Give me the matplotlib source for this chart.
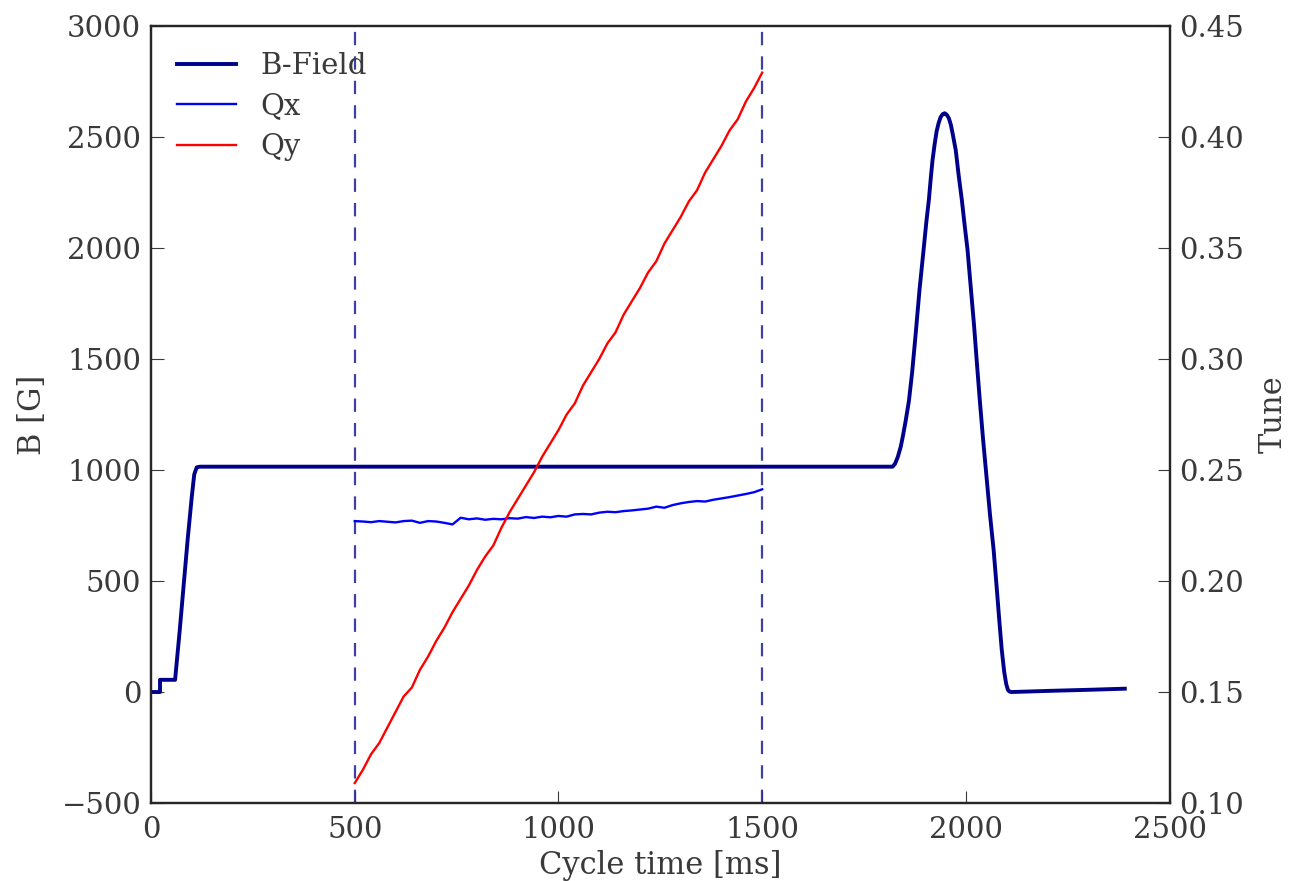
import matplotlib
matplotlib.use('Agg')
import matplotlib.pyplot as plt

# B-field vs cycle time
b_time = [0, 22, 22, 59, 70, 80, 90, 100, 106, 112, 120, 300, 600, 900, 1200, 1500, 1820,
          1826, 1833, 1840, 1845, 1852, 1860, 1868, 1877, 1886, 1896, 1903, 1909, 1914,
          1918, 1923, 1928, 1933, 1938, 1943, 1948, 1953, 1958, 1963, 1968, 1972, 1975,
          1982, 1990, 1997, 2004, 2012, 2020, 2027, 2034, 2042, 2050, 2059, 2068, 2076,
          2082, 2088, 2094, 2099, 2103, 2107, 2112, 2200, 2300, 2390]
b_field = [0, 0, 55, 55, 270, 480, 690, 880, 980, 1012, 1015, 1015, 1015, 1015, 1015, 1015, 1015,
           1028, 1060, 1105, 1150, 1220, 1310, 1440, 1620, 1810, 1991, 2120, 2216, 2320,
           2395, 2465, 2525, 2563, 2590, 2603, 2607, 2600, 2585, 2555, 2510, 2470, 2441,
           2330, 2216, 2100, 1991, 1820, 1650, 1480, 1315, 1140, 980, 800, 640, 460,
           320, 189, 90, 35, 10, 2, 0, 5, 10, 15]

# tune measurements between 500 and 1500 ms
tune_time = list(range(500, 1501, 20))
qx = [0.2270, 0.2268, 0.2265, 0.2270, 0.2267, 0.2264, 0.2270, 0.2272, 0.2262, 0.2270,
      0.2268, 0.2262, 0.2255, 0.2285, 0.2278, 0.2282, 0.2276, 0.2280, 0.2278, 0.2283,
      0.2281, 0.2288, 0.2284, 0.2290, 0.2287, 0.2293, 0.2290, 0.2300, 0.2302, 0.2300,
      0.2308, 0.2312, 0.2310, 0.2315, 0.2318, 0.2322, 0.2326, 0.2335, 0.2330, 0.2342,
      0.2350, 0.2356, 0.2360, 0.2358, 0.2366, 0.2372, 0.2378, 0.2385, 0.2392, 0.2400,
      0.2413]
qy = [0.109, 0.115, 0.122, 0.127, 0.134, 0.141, 0.148, 0.152, 0.160, 0.166,
      0.173, 0.179, 0.186, 0.192, 0.198, 0.205, 0.211, 0.216, 0.224, 0.231,
      0.237, 0.243, 0.249, 0.256, 0.262, 0.268, 0.275, 0.280, 0.288, 0.294,
      0.300, 0.307, 0.312, 0.320, 0.326, 0.332, 0.339, 0.344, 0.352, 0.358,
      0.364, 0.371, 0.376, 0.384, 0.390, 0.396, 0.403, 0.408, 0.416, 0.422,
      0.429]

plt.rcParams['font.family'] = 'DejaVu Serif'
plt.rcParams['font.size'] = 21
plt.rcParams['xtick.direction'] = 'in'
plt.rcParams['ytick.direction'] = 'in'
plt.rcParams['xtick.major.size'] = 9
plt.rcParams['ytick.major.size'] = 9
plt.rcParams['xtick.major.pad'] = 9
plt.rcParams['ytick.major.pad'] = 7
plt.rcParams['axes.edgecolor'] = '#262626'
plt.rcParams['axes.linewidth'] = 1.6
plt.rcParams['text.color'] = '#3a3a3a'
plt.rcParams['xtick.color'] = '#3a3a3a'
plt.rcParams['ytick.color'] = '#3a3a3a'
plt.rcParams['axes.labelcolor'] = '#3a3a3a'

fig = plt.figure(figsize=(12.91, 8.81), dpi=100)
ax = fig.add_axes([0.117, 0.0885, 0.789, 0.882])
ax2 = ax.twinx()

l1, = ax.plot(b_time, b_field, color='#00008b', lw=2.8, label='B-Field')
l2, = ax2.plot(tune_time, qx, color='blue', lw=1.7, label='Qx')
l3, = ax2.plot(tune_time, qy, color='red', lw=1.7, label='Qy')

for t in (500, 1500):
    ax.axvline(t, color='#2b2b9a', lw=1.6, ls=(0, (6, 5)), alpha=0.9)

ax.set_xlim(0, 2500)
ax.set_ylim(-500, 3000)
ax2.set_ylim(0.10, 0.45)
ax.set_xticks([0, 500, 1000, 1500, 2000, 2500])
ax.set_yticks(range(-500, 3001, 500))
ax2.set_yticks([0.10, 0.15, 0.20, 0.25, 0.30, 0.35, 0.40, 0.45])
ax2.set_yticklabels(['0.10', '0.15', '0.20', '0.25', '0.30', '0.35', '0.40', '0.45'])
ax.tick_params(top=False)
ax.set_xlabel('Cycle time [ms]', fontsize=22, labelpad=5)
ax.set_ylabel('B [G]', fontsize=22, labelpad=10)
ax2.set_ylabel('Tune', fontsize=22, labelpad=10)

ax.legend(handles=[l1, l2, l3], loc='upper left', frameon=False, fontsize=21,
          handlelength=2.0, handletextpad=0.85, labelspacing=0.42, borderaxespad=0.5)

fig.savefig('out.png', dpi=100)
